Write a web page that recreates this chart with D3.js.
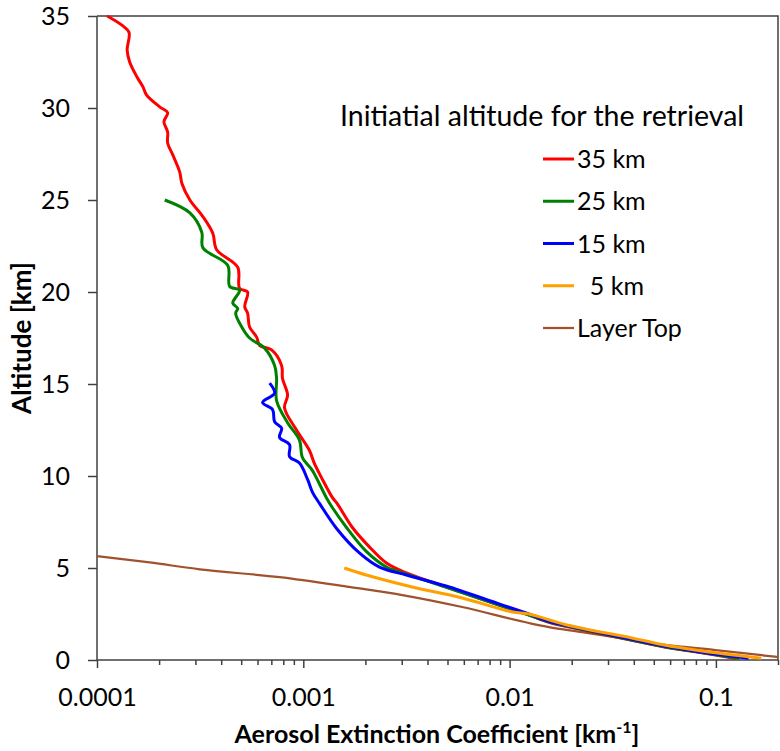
<!DOCTYPE html>
<html>
<head>
<meta charset="utf-8">
<script src="https://cdn.jsdelivr.net/npm/d3@7"></script>
<style>
  body { margin: 0; background: #fff; }
  text { font-family: Lato, "Open Sans", sans-serif; fill: #000; }
  .axis path, .axis line { stroke: #404040; stroke-width: 1.5; }
</style>
</head>
<body>
<script>
// extinction [km-1], altitude [km]
var run35 = [
  [1.12e-4, 35.0], [1.32e-4, 34.5], [1.43e-4, 34.1], [1.40e-4, 33.15], [1.44e-4, 32.5],
  [1.56e-4, 31.7], [1.67e-4, 31.15], [1.74e-4, 30.7], [2.02e-4, 30.05], [2.20e-4, 29.75],
  [2.11e-4, 29.25], [2.20e-4, 28.7], [2.20e-4, 28.1], [2.33e-4, 27.45], [2.52e-4, 26.5],
  [2.58e-4, 25.9], [2.82e-4, 25.0], [3.26e-4, 24.1], [3.64e-4, 23.2], [3.80e-4, 22.3],
  [4.81e-4, 21.35], [4.91e-4, 20.2], [5.37e-4, 20.0], [5.20e-4, 19.2], [5.37e-4, 18.85],
  [5.49e-4, 18.1], [5.94e-4, 17.55], [6.14e-4, 17.1], [7.02e-4, 16.85], [7.85e-4, 16.0],
  [7.93e-4, 15.3], [8.39e-4, 14.4], [8.11e-4, 13.7], [9.27e-4, 12.5], [1.07e-3, 11.4],
  [1.13e-3, 10.7], [1.24e-3, 9.8], [1.38e-3, 8.85], [1.46e-3, 8.5], [1.73e-3, 7.2],
  [2.09e-3, 6.15], [2.53e-3, 5.27], [3.16e-3, 4.73], [4.92e-3, 3.97], [8.89e-3, 2.99],
  [1.24e-2, 2.45], [1.55e-2, 2.05], [2.09e-2, 1.72], [3.91e-2, 1.07], [5.70e-2, 0.69],
  [8.24e-2, 0.42], [0.125, 0.08]
]
var run25 = [
  [2.13e-4, 25.0], [2.82e-4, 24.3], [3.22e-4, 23.25], [3.26e-4, 22.4], [4.30e-4, 21.45],
  [4.40e-4, 20.3], [4.91e-4, 20.1], [4.55e-4, 19.4], [4.81e-4, 19.1], [4.70e-4, 18.85],
  [5.03e-4, 18.1], [5.49e-4, 17.5], [6.49e-4, 16.95], [7.26e-4, 16.0], [7.42e-4, 15.3],
  [7.42e-4, 14.1], [8.39e-4, 12.9], [9.58e-4, 11.95], [9.91e-4, 11.0], [1.10e-3, 10.35],
  [1.17e-3, 9.8], [1.29e-3, 8.85], [1.38e-3, 8.3], [1.62e-3, 7.2], [2.02e-3, 5.9],
  [2.53e-3, 5.05], [3.16e-3, 4.67], [4.85e-3, 3.97], [8.80e-3, 3.0], [1.23e-2, 2.46],
  [1.55e-2, 2.07], [2.09e-2, 1.74], [3.91e-2, 1.09], [5.70e-2, 0.71], [8.30e-2, 0.43],
  [0.130, 0.08]
]
var run15 = [
  [6.87e-4, 15.05], [7.26e-4, 14.5], [6.35e-4, 14.0], [7.10e-4, 13.6], [7.26e-4, 12.95],
  [7.85e-4, 12.6], [7.67e-4, 12.1], [8.58e-4, 11.7], [8.58e-4, 11.05], [9.58e-4, 10.7],
  [1.05e-3, 9.8], [1.11e-3, 9.1], [1.20e-3, 8.5], [1.45e-3, 7.15], [1.87e-3, 5.82],
  [2.34e-3, 5.05], [3.16e-3, 4.62], [4.92e-3, 4.02], [8.89e-3, 3.05], [1.24e-2, 2.5],
  [1.55e-2, 2.1], [2.09e-2, 1.77], [3.91e-2, 1.12], [5.70e-2, 0.74], [8.24e-2, 0.45],
  [0.144, 0.1]
]
var run5 = [
  [1.58e-3, 5.0], [2.02e-3, 4.62], [3.37e-3, 3.97], [5.89e-3, 3.37], [1.03e-2, 2.61],
  [1.24e-2, 2.5], [1.87e-2, 1.92], [3.91e-2, 1.2], [5.70e-2, 0.8], [8.24e-2, 0.52],
  [0.166, 0.1]
]
var layerTop = [
  [1.0e-4, 5.65], [1.80e-4, 5.3], [3.15e-4, 4.93], [7.67e-4, 4.5],
  [1.62e-3, 3.99], [3.02e-3, 3.53], [5.89e-3, 2.88], [1.24e-2, 2.01], [1.55e-2, 1.79],
  [2.24e-2, 1.52], [3.91e-2, 1.09], [5.70e-2, 0.82], [9.96e-2, 0.54], [0.2, 0.16]
]

var seriesNames = ["35 km", "25 km", "15 km", "  5 km", "Layer Top"]
var seriesColors = ["#ff0000", "#008000", "#0000ff", "#ffa000", "#a0522d"]
var seriesData = [run35, run25, run15, run5, layerTop]

var xMajor = [0.0001, 0.001, 0.01, 0.1]
var xLabels = ["0.0001", "0.001", "0.01", "0.1"]
var yTicks = [0, 5, 10, 15, 20, 25, 30, 35]

var width = 780
var height = 751
var margin = {top: 16, right: 2, bottom: 91, left: 97}

var svg = d3.select("body").append("svg")
  .attr("width", width)
  .attr("height", height)

var x = d3.scaleLog()
  .domain([0.0001, 0.2])
  .range([margin.left, width - margin.right])

var y = d3.scaleLinear()
  .domain([0, 35])
  .range([height - margin.bottom, margin.top])

// minor ticks 1..9 per decade
var xMinor = []
xMajor.forEach(function (d) {
  for (var k = 1; k < 10; k++) {
    var v = d * k
    if (v <= 0.2 + 1e-9) xMinor.push(v)
  }
})

// frame (top and right)
svg.append("path")
  .attr("d", "M" + x.range()[0] + "," + y(35) + "H" + x.range()[1] + "V" + y(0))
  .attr("fill", "none")
  .attr("stroke", "#404040")
  .attr("stroke-width", 1.5)

var xAxis = svg.append("g")
  .attr("class", "axis")
  .attr("transform", "translate(0," + y(0) + ")")
  .call(d3.axisBottom(x)
    .tickValues(xMinor)
    .tickSize(5)
    .tickPadding(23)
    .tickFormat(function (d) {
      var i = xMajor.findIndex(function (m) { return Math.abs(m - d) / m < 1e-6 })
      return i >= 0 ? xLabels[i] : ""
    }))
xAxis.selectAll(".tick line")
  .attr("y2", function (d) {
    return xMajor.some(function (m) { return Math.abs(m - d) / m < 1e-6 }) ? 8 : 5
  })
xAxis.selectAll("text").style("font-size", "25px")
xAxis.select(".domain").attr("d", "M" + x.range()[0] + ",0H" + x.range()[1])

var yAxis = svg.append("g")
  .attr("class", "axis")
  .attr("transform", "translate(" + margin.left + ",0)")
  .call(d3.axisLeft(y)
    .tickValues(yTicks)
    .tickSize(9)
    .tickPadding(18))
yAxis.selectAll("text").style("font-size", "25px")
yAxis.select(".domain").attr("d", "M0," + y(35) + "V" + y(0))

var line = d3.line()
  .x(function (d) { return x(d[0]) })
  .y(function (d) { return y(d[1]) })
  .curve(d3.curveCatmullRom)

// layer top is smooth and monotone in x
var smoothLine = d3.line()
  .x(function (d) { return x(d[0]) })
  .y(function (d) { return y(d[1]) })
  .curve(d3.curveMonotoneX)

// draw back to front like the original stacking
var order = [4, 0, 1, 2, 3]
order.forEach(function (i) {
  svg.append("path")
    .datum(seriesData[i])
    .attr("fill", "none")
    .attr("stroke", seriesColors[i])
    .attr("stroke-width", i === 4 ? 2.25 : 3)
    .attr("stroke-linejoin", "round")
    .attr("d", i === 4 ? smoothLine : line)
})

// axis titles
var xTitle = svg.append("text")
  .attr("x", 437)
  .attr("y", 743)
  .attr("text-anchor", "middle")
  .style("font-size", "25px")
  .style("font-weight", "bold")
xTitle.append("tspan").text("Aerosol Extinction Coefficient [km")
xTitle.append("tspan")
  .attr("dy", -10)
  .style("font-size", "16px")
  .text("-1")
xTitle.append("tspan")
  .attr("dy", 10)
  .text("]")

svg.append("text")
  .attr("transform", "translate(31,338) rotate(-90)")
  .attr("text-anchor", "middle")
  .style("font-size", "26px")
  .style("font-weight", "bold")
  .text("Altitude [km]")

// legend
var legend = svg.append("g")
legend.append("text")
  .attr("x", 340)
  .attr("y", 126)
  .style("font-size", "28.5px")
  .text("Initiatial altitude for the retrieval")

var legendY = d3.scalePoint()
  .domain(seriesNames)
  .range([159, 328])

seriesNames.forEach(function (name, i) {
  var g = legend.append("g")
    .attr("transform", "translate(0," + legendY(name) + ")")
  g.append("line")
    .attr("x1", 543).attr("x2", 574)
    .attr("stroke", seriesColors[i])
    .attr("stroke-width", i === 4 ? 2.25 : 3)
  g.append("text")
    .attr("x", 577)
    .attr("y", 9)
    .style("font-size", "25px")
    .style("white-space", "pre")
    .attr("xml:space", "preserve")
    .text(name)
})
</script>
</body>
</html>
